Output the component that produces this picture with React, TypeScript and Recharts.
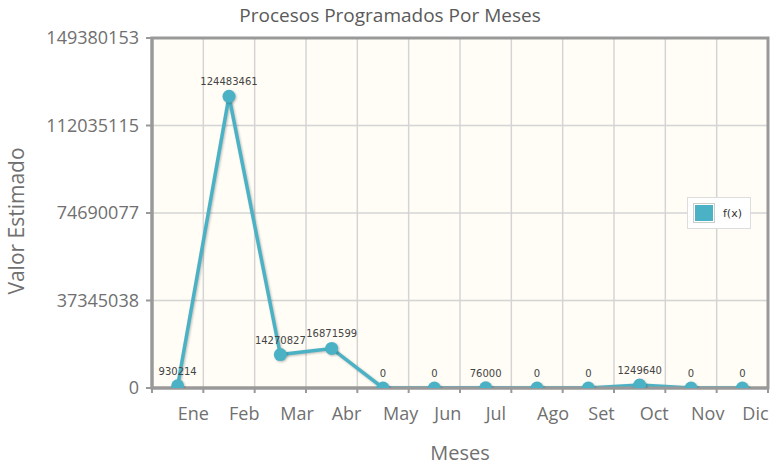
import {
  LineChart, Line, XAxis, YAxis, CartesianGrid, ReferenceArea, LabelList, Legend,
} from 'recharts'

const months = ['Ene', 'Feb', 'Mar', 'Abr', 'May', 'Jun', 'Jul', 'Ago', 'Set', 'Oct', 'Nov', 'Dic']
const values = [930214, 124483461, 14270827, 16871599, 0, 0, 76000, 0, 0, 1249640, 0, 0]
const yTicks = [0, 37345038, 74690077, 112035115, 149380153]
const gridTicks = [0, 1, 2, 3, 4, 5, 6, 7, 8, 9, 10, 11, 12]
const labelTicks = months.map((_, i) => i + 0.5)

const yMax = yTicks[yTicks.length - 1]
const data = months.map((m, i) => ({ month: m, pos: i + 0.5, value: values[i] }))

const AXIS_GREY = '#999'
const TEXT_GREY = '#707070'
const SERIES = '#4bb2c5'

function MonthTick({ x, y, payload }: { x?: number; y?: number; payload?: { value: number } }) {
  const idx = Math.floor(payload?.value ?? 0)
  return (
    <text x={x} y={y} dy={18} textAnchor="start" fontSize={18} fill={TEXT_GREY}>
      {months[idx]}
    </text>
  )
}

function YLabel({ viewBox }: { viewBox?: { x: number; y: number; width: number; height: number } }) {
  if (!viewBox) return null
  const cx = viewBox.x + 24
  const cy = 221
  return (
    <text x={cx} y={cy} transform={`rotate(-90 ${cx} ${cy})`} textAnchor="middle" fontSize={21} fill={TEXT_GREY}>
      Valor Estimado
    </text>
  )
}

function XLabel({ viewBox }: { viewBox?: { x: number; y: number; width: number; height: number } }) {
  if (!viewBox) return null
  return (
    <text x={viewBox.x + viewBox.width / 2} y={viewBox.y + viewBox.height - 6} textAnchor="middle" fontSize={20} fill={TEXT_GREY}>
      Meses
    </text>
  )
}

function LegendBox() {
  return (
    <div style={{
      background: '#fff', border: '1px solid #ddd', padding: '5px 8px 5px 5px',
      display: 'flex', alignItems: 'center', gap: 8, boxSizing: 'border-box',
    }}>
      <div style={{ padding: 1, border: '1px solid #ccc', lineHeight: 0 }}>
        <div style={{ width: 18, height: 16, background: SERIES }} />
      </div>
      <span style={{ fontSize: 11, color: '#333', fontFamily: '"DejaVu Sans", sans-serif' }}>f(x)</span>
    </div>
  )
}

export default function App() {
  return (
    <div style={{ position: 'absolute', left: 0, top: 0, width: 772, height: 466, fontFamily: '"Open Sans", sans-serif' }}>
      <div style={{
        position: 'absolute', left: 190, width: 400, top: 2, textAlign: 'center',
        fontSize: 19, color: '#5a5a5a', zIndex: 2,
      }}>
        Procesos Programados Por Meses
      </div>
      <LineChart width={772} height={466} data={data} margin={{ top: 38, right: 4, bottom: 0, left: 0 }}>
        <CartesianGrid xAxisId="grid" stroke="#d4d4d4" strokeWidth={1.5} fill="#fffdf6" />
        {/* boundary axis: tick marks + vertical grid, no visible labels */}
        <XAxis
          xAxisId="grid" type="number" dataKey="pos" domain={[0, 12]} ticks={gridTicks}
          interval={0} tickFormatter={() => ''} height={6} tickSize={5} tickMargin={0}
          tickLine={{ stroke: AXIS_GREY, strokeWidth: 2 }}
          axisLine={{ stroke: AXIS_GREY, strokeWidth: 3 }}
        />
        <XAxis
          xAxisId="labels" type="number" dataKey="pos" domain={[0, 12]} ticks={labelTicks}
          interval={0} height={72} axisLine={false} tickLine={false} tick={<MonthTick />}
          label={<XLabel />}
        />
        <YAxis
          type="number" domain={[0, yMax]} ticks={yTicks} allowDataOverflow width={152}
          tick={{ fontSize: 18, fill: TEXT_GREY }} tickSize={6} tickMargin={7}
          tickLine={{ stroke: AXIS_GREY, strokeWidth: 2 }}
          axisLine={{ stroke: AXIS_GREY, strokeWidth: 3 }}
          label={<YLabel />}
        />
        <ReferenceArea xAxisId="grid" x1={0} x2={12} y1={0} y2={yMax} fill="none" stroke={AXIS_GREY} strokeWidth={3} />
        <Legend
          verticalAlign="middle" layout="horizontal"
          wrapperStyle={{ left: 687, top: 197, width: 'auto' }}
          content={<LegendBox />}
        />
        <Line
          xAxisId="grid" type="linear" dataKey="value" name="f(x)" stroke={SERIES} strokeWidth={3.5}
          dot={{ r: 6.5, fill: SERIES, stroke: 'none' }} activeDot={false}
          isAnimationActive={false}
          style={{ filter: 'drop-shadow(1px 1.5px 1px rgba(0,0,0,0.25))' }}
        >
          <LabelList dataKey="value" position="top" offset={11} fontSize={10} fill="#444" fontFamily='"DejaVu Sans", sans-serif' />
        </Line>
      </LineChart>
    </div>
  )
}
